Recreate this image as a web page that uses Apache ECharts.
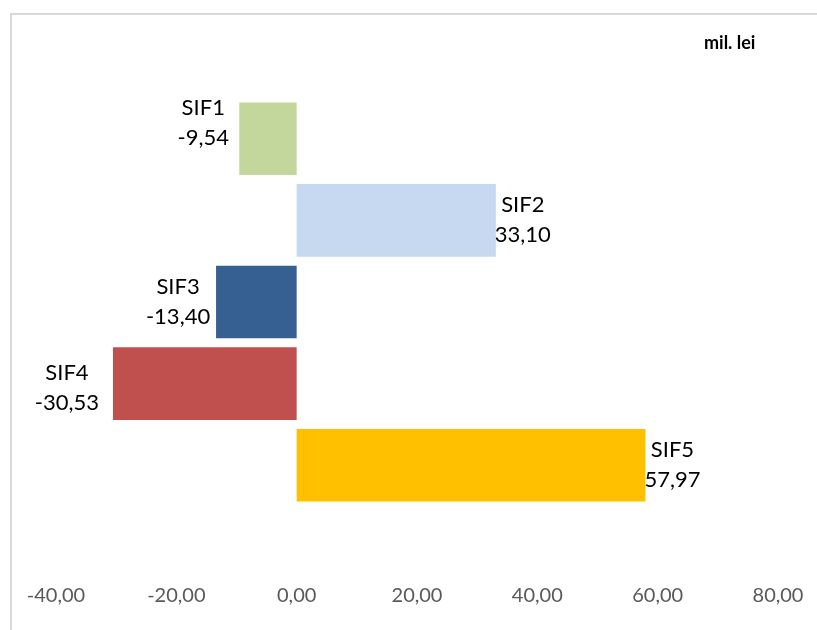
<!DOCTYPE html>
<html><head><meta charset="utf-8">
<script src="https://cdn.jsdelivr.net/npm/echarts@6/dist/echarts.min.js"></script>
<style>html,body{margin:0;padding:0;background:#fff}#c{width:817px;height:630px}
#frame{position:absolute;left:10px;top:13px;width:820px;height:630px;border:2px solid #d9d9d9;box-sizing:border-box;pointer-events:none}</style>
</head><body><div id="c"></div><div id="frame"></div>
<script>
const categories = ['SIF1','SIF2','SIF3','SIF4','SIF5'];
const values = [-9.54, 33.10, -13.40, -30.53, 57.97];
const colors = ['#C3D69B','#C6D9F1','#376092','#C0504D','#FFC000'];
// label placement styling (distance of label-block centre from bar end, vertical offset)
const labelDist = [36, 27, 38, 46, 27];
const labelDy = [-16, 0, 0, 4, 0];
const fmt = v => v.toFixed(2).replace('.', ',');
const chart = echarts.init(document.getElementById('c'));
chart.setOption({
  animation:false,
  textStyle:{fontFamily:'Lato'},
  graphic:[{type:'text',left:704,top:34,style:{text:'mil. lei',font:'bold 18px Lato',fill:'#000'}}],
  grid:{left:56,right:39,top:98,height:408,containLabel:false},
  xAxis:{type:'value',min:-40,max:80,interval:20,
    axisLine:{show:false},axisTick:{show:false},splitLine:{show:false},
    axisLabel:{margin:80,color:'#595959',fontSize:20,formatter:v=>fmt(v)}},
  yAxis:{type:'category',data:categories,inverse:true,
    axisLine:{show:false},axisTick:{show:false},axisLabel:{show:false}},
  series:[{type:'bar',barCategoryGap:'11%',
    data:values.map((v,i)=>({value:v,itemStyle:{color:colors[i]},
      label:{position:v<0?'left':'right',distance:labelDist[i],offset:[0,labelDy[i]]}})),
    label:{show:true,color:'#000',fontSize:22,lineHeight:30,align:'center',
      formatter:p=>categories[p.dataIndex]+'\n'+fmt(p.value)}
  }]
});
</script></body></html>
